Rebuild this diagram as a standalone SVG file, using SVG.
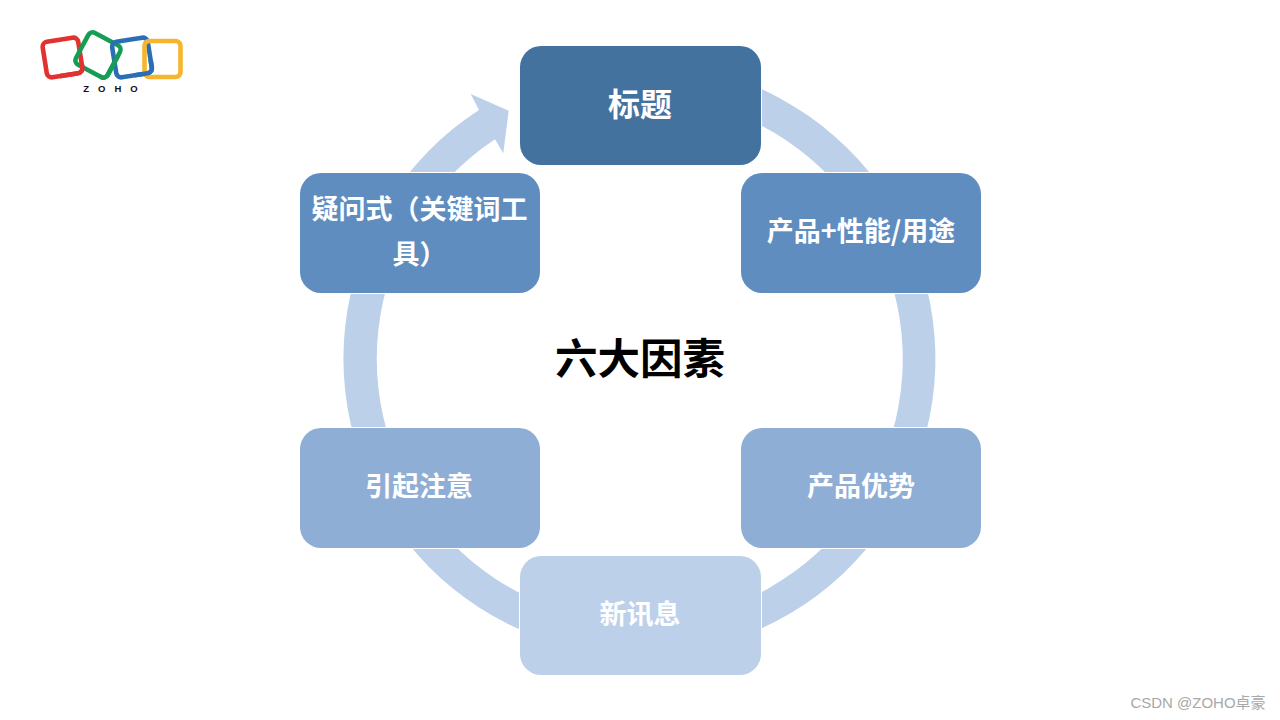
<svg xmlns="http://www.w3.org/2000/svg" width="1280" height="720" viewBox="0 0 1280 720">
<style>
.n{stroke:#fff;stroke-width:2;paint-order:stroke}
.t{font-family:"Noto Sans CJK SC","Liberation Sans",sans-serif;font-weight:700;fill:#fff;text-anchor:middle;font-size:27px}
.l{fill:none;stroke-width:4.6}
</style>
<defs>
<rect id="lr" class="l" x="44.500" y="39.500" width="36" height="36" rx="5" stroke="#E1322F" transform="rotate(-9 62.500 57.500)"/>
<rect id="ly" class="l" x="144.500" y="41" width="36" height="36" rx="5" stroke="#F7B52E"/>
<rect id="lb" class="l" x="114" y="39.500" width="36" height="36" rx="5" stroke="#2A6FB5" transform="rotate(-9 132 57.500)"/>
<rect id="lg" class="l" x="80" y="37" width="36" height="36" rx="5" stroke="#169D55" transform="rotate(28 98 55)"/>
<clipPath id="c1"><rect x="60" y="63" width="40" height="25"/></clipPath>
<clipPath id="c2"><rect x="100" y="56" width="30" height="30"/></clipPath>
<clipPath id="c3"><rect x="135" y="60" width="25" height="25"/></clipPath>
</defs>
<rect width="1280" height="720" fill="#fff"/>
<g id="logo">
<use href="#lr"/>
<use href="#lg"/>
<use href="#lr" clip-path="url(#c1)"/>
<use href="#lb"/>
<use href="#lg" clip-path="url(#c2)"/>
<use href="#ly"/>
<use href="#lb" clip-path="url(#c3)"/>
<text x="115" y="92" font-family="Liberation Sans,sans-serif" font-size="9.500" font-weight="700" letter-spacing="9" text-anchor="middle" fill="#111">ZOHO</text>
</g>
<g id="connectors">
<path d="M750 84.200A296 296 0 1 1 479 110L470.700 94L508.700 110.700L503.300 153.300L495 139.300A263 263 0 1 0 750 120.100Z" fill="#BDD0EA"/>
</g>
<g id="node-title"><rect class="n" x="520" y="46" width="241" height="119" rx="21" fill="#44729F"/><text class="t" x="640" y="116" style="font-size:32px">标题</text></g>
<g id="node-product"><rect class="n" x="741" y="173" width="240" height="120" rx="21" fill="#5F8DC0"/><text class="t" x="861" y="241">产品+性能/用途</text></g>
<g id="node-advantage"><rect class="n" x="741" y="428" width="240" height="120" rx="21" fill="#8FAED6"/><text class="t" x="861" y="496">产品优势</text></g>
<g id="node-news"><rect class="n" x="520" y="556" width="241" height="119" rx="21" fill="#BDD0EA"/><text class="t" x="640" y="624">新讯息</text></g>
<g id="node-attention"><rect class="n" x="300" y="428" width="240" height="120" rx="21" fill="#8FAED6"/><text class="t" x="419" y="496">引起注意</text></g>
<g id="node-question"><rect class="n" x="300" y="173" width="240" height="120" rx="21" fill="#5F8DC0"/><text class="t" x="419.500" y="219">疑问式（关键词工</text><text class="t" x="419.500" y="264">具）</text></g>
<g id="center"><text x="640" y="374" font-family="'Noto Sans CJK SC',sans-serif" font-weight="700" font-size="42.500" text-anchor="middle" fill="#000">六大因素</text></g>
<text id="watermark" x="1198" y="708" font-family="'Liberation Sans','Noto Sans CJK SC',sans-serif" font-size="15" text-anchor="middle" fill="#A8A8A8">CSDN @ZOHO卓豪</text>
</svg>
